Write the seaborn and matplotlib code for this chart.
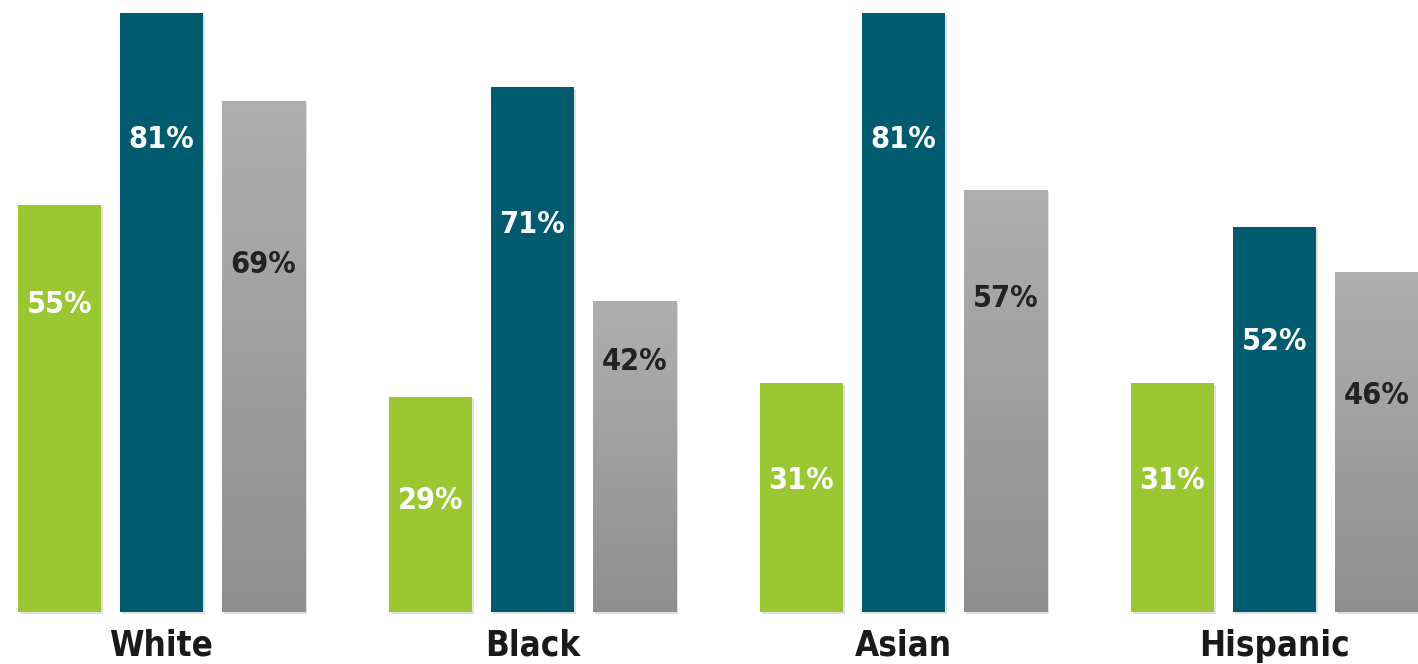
import numpy as np
import pandas as pd
import matplotlib
matplotlib.use("Agg")
import matplotlib.pyplot as plt
import matplotlib.patheffects as pe
from matplotlib import font_manager
from matplotlib.colors import LinearSegmentedColormap
import seaborn as sns

# ---- data ----
groups = ["White", "Black", "Asian", "Hispanic"]
series = ["Series A", "Series B", "Series C"]
values_a = [55, 29, 31, 31]
values_b = [81, 71, 81, 52]
values_c = [69, 42, 57, 46]
value_labels_a = ["55%", "29%", "31%", "31%"]
value_labels_b = ["81%", "71%", "81%", "52%"]
value_labels_c = ["69%", "42%", "57%", "46%"]
# where each value label sits (in value units, measured from the baseline)
label_pos_a = [41.5, 15.1, 17.8, 17.8]
label_pos_b = [63.8, 52.4, 63.8, 36.5]
label_pos_c = [46.9, 33.8, 42.4, 29.3]

colors = ["#9BC832", "#005B6E", "#A6A6A6"]
text_colors = ["white", "white", "#222222"]

# ---- font choice ----
sns.set_theme(style="white")
names = {f.name for f in font_manager.fontManager.ttflist}
cond = [f for f in font_manager.fontManager.ttflist
        if f.name == "DejaVu Sans" and "ondensed" in str(f.stretch) + f.fname]
if "Liberation Sans Narrow" in names:
    fam = ["Liberation Sans Narrow", "DejaVu Sans"]
    stretch = "normal"
elif cond:
    fam = ["DejaVu Sans"]
    stretch = "condensed"
else:
    fam = ["Roboto", "DejaVu Sans"]
    stretch = "condensed"
plt.rcParams["font.family"] = fam

rows = []
for vals, s in zip([values_a, values_b, values_c], series):
    for g, v in zip(groups, vals):
        rows.append({"group": g, "series": s, "value": v})
df = pd.DataFrame(rows)

fig = plt.figure(figsize=(14.18, 6.64), dpi=100)
ax = fig.add_axes([0, 0, 1, 1])
sns.barplot(data=df, x="group", y="value", hue="series", order=groups,
            hue_order=series, palette=colors, width=0.825, gap=0.18,
            saturation=1, legend=False, ax=ax, linewidth=0, edgecolor="none")

px_per_unit = 7.4
xlim = (-0.435, 3.387)
ylim = (-52 / px_per_unit, 612 / px_per_unit)

# identify patches by geometry
bars = {}
for p in ax.patches:
    cx = p.get_x() + p.get_width() / 2
    gi = int(round(cx))
    off = cx - gi
    si = int(round(off / 0.275)) + 1
    bars[(gi, si)] = p

label_sets = [value_labels_a, value_labels_b, value_labels_c]
pos_sets = [label_pos_a, label_pos_b, label_pos_c]
grad = np.linspace(0, 1, 256).reshape(-1, 1)
gcmap = LinearSegmentedColormap.from_list("g", ["#8F8F8F", "#AFAFAF"])

for (gi, si), p in bars.items():
    p.set_path_effects([pe.SimplePatchShadow(offset=(1.5, -1.5), alpha=0.18,
                                             shadow_rgbFace="#555555"),
                        pe.Normal()])
    x0, w, h = p.get_x(), p.get_width(), p.get_height()
    if si == 2:
        im = ax.imshow(grad, extent=(x0, x0 + w, 0, h), origin="lower",
                       cmap=gcmap, aspect="auto", zorder=p.get_zorder() + 0.1)
        im.set_clip_path(p)
    cx = x0 + w / 2
    ax.text(cx, pos_sets[si][gi], label_sets[si][gi], ha="center",
            va="center", color=text_colors[si], fontsize=22,
            fontweight="bold", fontstretch=stretch, zorder=5)

for gi, g in enumerate(groups):
    ax.text(gi, -34 / px_per_unit, g, ha="center", va="center",
            color="#1a1a1a", fontsize=25, fontweight="bold",
            fontstretch=stretch)

ax.set_xlim(*xlim)
ax.set_ylim(*ylim)
ax.axis("off")
fig.savefig("out.png", dpi=100, facecolor="white")
